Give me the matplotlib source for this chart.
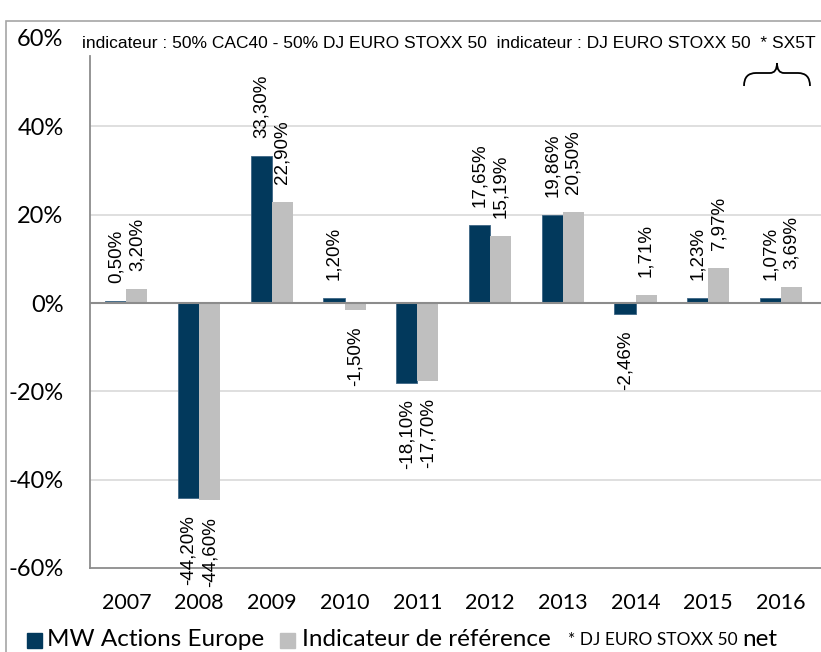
import matplotlib
matplotlib.use("Agg")
import matplotlib.pyplot as plt
import numpy as np
from matplotlib import font_manager
from matplotlib.patches import Rectangle, PathPatch
from matplotlib.path import Path

# yearly performance, in %
years = ["2007", "2008", "2009", "2010", "2011", "2012", "2013", "2014", "2015", "2016"]
fund = [0.50, -44.20, 33.30, 1.20, -18.10, 17.65, 19.86, -2.46, 1.23, 1.07]
index = [3.20, -44.60, 22.90, -1.50, -17.70, 15.19, 20.50, 1.71, 7.97, 3.69]
y_ticks = [-60, -40, -20, 0, 20, 40, 60]

navy = "#02395C"
grey = "#BFBFBF"
calibri = ["Lato", "DejaVu Sans"]

# Arial Narrow look-alike if there is one, plain Arial metrics otherwise
names = {f.name for f in font_manager.fontManager.ttflist}
if "Liberation Sans Narrow" in names:
    narrow, head_size, lab_size = ["Liberation Sans Narrow"], 15, 16
else:
    narrow, head_size, lab_size = ["Liberation Sans", "DejaVu Sans"], 12.5, 13.5

fig = plt.figure(figsize=(8.21, 6.52), dpi=100)
ax = fig.add_axes([90 / 821, 84 / 652, 731 / 821, 530 / 652])

x = np.arange(len(years))
w = 0.29
ax.bar(x - w / 2, fund, w, color=navy, edgecolor="#3E6685", linewidth=0.6, zorder=3)
ax.bar(x + w / 2, index, w, color=grey, zorder=3)

# value labels, rotated
def fmt(v):
    return ("%.2f%%" % v).replace(".", ",")

for xs, vals in ((x - w / 2, fund), (x + w / 2, index)):
    for xi, v in zip(xs, vals):
        off = 13 if v >= 0 else -12
        ax.annotate(fmt(v), (xi, v), xytext=(0, off), textcoords="offset points",
                    rotation=90, ha="center", va="bottom" if v >= 0 else "top",
                    fontsize=lab_size, family=narrow, color="black", zorder=4)

ax.set_xlim(-0.5, 9.55)
ax.set_ylim(-60, 60)
ax.set_yticks(y_ticks)
ax.set_yticklabels(["%d%%" % t for t in y_ticks], family=calibri, fontsize=17)
ax.set_xticks(x)
ax.set_xticklabels(years, family=calibri, fontsize=15.5)
ax.tick_params(axis="y", length=0, pad=19)
ax.tick_params(axis="x", length=0, pad=18)

for t in [-40, -20, 20, 40]:
    ax.axhline(t, color="#D9D9D9", linewidth=1.2, zorder=1)
ax.axhline(0, color="#8C8C8C", linewidth=1.5, zorder=4)

for s in ["top", "right"]:
    ax.spines[s].set_visible(False)
ax.spines["left"].set_color("#8C8C8C")
ax.spines["left"].set_linewidth(1.3)
ax.spines["left"].set_bounds(-60, 56)
ax.spines["bottom"].set_color("#8C8C8C")
ax.spines["bottom"].set_linewidth(1.3)

# frame around the whole picture
fig.patches.append(Rectangle((6 / 821, -0.1), 1.2, (652 - 21) / 652 + 0.1,
                             transform=fig.transFigure, fill=False,
                             edgecolor="#A6A6A6", linewidth=1.2))

# header text
fig.text(82 / 821, 1 - 43 / 652,
         "indicateur : 50% CAC40 - 50% DJ EURO STOXX 50  indicateur : DJ EURO STOXX 50  * SX5T",
         family=narrow, fontsize=head_size, va="center", ha="left")

# curly brace under SX5T
px = lambda a, b: (a / 821, 1 - b / 652)
verts = [px(744, 86), px(744, 73), px(756, 73), px(770, 73),
         px(777, 73), px(777, 63), px(777, 63), px(777, 73), px(784, 73),
         px(798, 73), px(810, 73), px(810, 86)]
codes = [Path.MOVETO, Path.CURVE3, Path.CURVE3, Path.LINETO,
         Path.CURVE3, Path.CURVE3, Path.MOVETO, Path.CURVE3, Path.CURVE3,
         Path.LINETO, Path.CURVE3, Path.CURVE3]
fig.patches.append(PathPatch(Path(verts, codes), transform=fig.transFigure,
                             fill=False, edgecolor="black", linewidth=1.3))

# legend
ly = 1 - 639 / 652
fig.patches.append(Rectangle((27 / 821, 1 - 648 / 652), 15 / 821, 15 / 652,
                             transform=fig.transFigure, color=navy))
fig.text(47 / 821, ly, "MW Actions Europe", fontsize=17.5, va="center", family=calibri)
fig.patches.append(Rectangle((280 / 821, 1 - 648 / 652), 15 / 821, 15 / 652,
                             transform=fig.transFigure, color=grey))
fig.text(302 / 821, ly, "Indicateur de référence", fontsize=17.5, va="center", family=calibri)
small = fig.text(568 / 821, ly - 1 / 652, "* DJ EURO STOXX 50", fontsize=12.5, va="center",
                 family=calibri)
fig.canvas.draw()
bb = small.get_window_extent()
fig.text(bb.x1 / 821 + 5 / 821, ly, "net", fontsize=17.5, va="center", family=calibri)

fig.savefig("out.png", dpi=100)
